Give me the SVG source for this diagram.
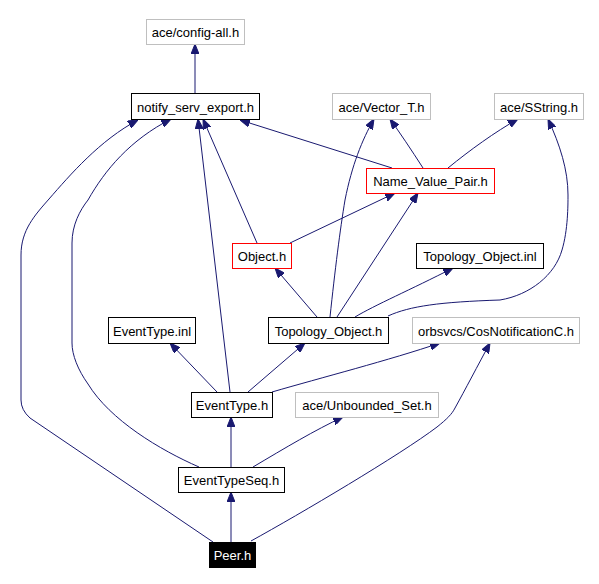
<svg xmlns="http://www.w3.org/2000/svg" width="599" height="584" viewBox="0 0 599 584">
<style>
.n rect{fill:#fff;stroke:#000;stroke-width:1}
.g rect{stroke:#bfbfbf}
.r rect{stroke:#ff0000}
text{font-family:"Liberation Sans",Arial,sans-serif;font-size:13px;text-anchor:middle;fill:#000}
text.w{fill:#fff}
.e path{fill:none;stroke:#191970;stroke-width:1;marker-end:url(#a)}
</style>
<defs>
<marker id="a" viewBox="0 0 10 8" refX="10" refY="4" markerWidth="10" markerHeight="8" markerUnits="userSpaceOnUse" orient="auto">
<path d="M0,0 L10,4 L0,8 z" fill="#191970" stroke="#191970"/>
</marker>
</defs>
<rect width="599" height="584" fill="#fff"/>
<g class="e" id="edges">
<path d="M195,93 L195,44"/>
<path d="M213,542 L30,418 Q21,410 21,400 L21,255 C21,230 35,215 49,199 C70,175 100,140 138,120"/>
<path d="M199,467 C160,450 110,420 88,384 C78,370 72,355 72,343 L72,243 C72,225 80,210 88,200 C105,170 130,140 171,119"/>
<path d="M230,392 L198,119"/>
<path d="M257,243 L203,119"/>
<path d="M392,168 L240,120"/>
<path d="M423,168 Q405,140 390,119"/>
<path d="M448,168 C470,150 495,132 518,119"/>
<path d="M330,317 C335,270 340,230 345,200 C352,165 362,140 374,119"/>
<path d="M337,317 L418,193"/>
<path d="M290,243 L395,193"/>
<path d="M317,317 L275,268"/>
<path d="M355,317 C375,305 410,290 453,268"/>
<path d="M388,316 C410,306 440,302 500,300 C530,295 555,275 562,250 C568,230 568,205 568,195 C568,170 560,145 548,119"/>
<path d="M217,392 L170,343"/>
<path d="M248,392 L305,343"/>
<path d="M272,392 C320,378 390,360 440,343"/>
<path d="M231,467 L231,417"/>
<path d="M253,467 C285,448 315,430 343,417"/>
<path d="M231,542 L231,492"/>
<path d="M251,541 C300,514 400,455 437,427 C447,419 452,414 455,408 C465,390 478,365 490,343"/>
</g>
<g class="n g" id="config-all"><rect x="146.5" y="19.5" width="98" height="25"/><text x="195.5" y="37">ace/config-all.h</text></g>
<g class="n" id="notify_serv_export"><rect x="131.5" y="93.5" width="128" height="26"/><text x="195.5" y="112">notify_serv_export.h</text></g>
<g class="n g" id="Vector_T"><rect x="332.5" y="93.5" width="98" height="26"/><text x="381.5" y="112">ace/Vector_T.h</text></g>
<g class="n g" id="SString"><rect x="494.5" y="93.5" width="89" height="26"/><text x="539" y="112">ace/SString.h</text></g>
<g class="n r" id="Name_Value_Pair"><rect x="366.5" y="168.5" width="128" height="25"/><text x="430.5" y="186">Name_Value_Pair.h</text></g>
<g class="n r" id="Object"><rect x="232.5" y="243.5" width="59" height="25"/><text x="262" y="261">Object.h</text></g>
<g class="n" id="Topology_Object_inl"><rect x="416.5" y="243.5" width="127" height="25"/><text x="480" y="261">Topology_Object.inl</text></g>
<g class="n" id="EventType_inl"><rect x="108.5" y="317.5" width="87" height="26"/><text x="152" y="336">EventType.inl</text></g>
<g class="n" id="Topology_Object_h"><rect x="268.5" y="317.5" width="120" height="26"/><text x="328.5" y="336">Topology_Object.h</text></g>
<g class="n g" id="CosNotificationC"><rect x="412.5" y="317.5" width="167" height="26"/><text x="496" y="336">orbsvcs/CosNotificationC.h</text></g>
<g class="n" id="EventType_h"><rect x="191.5" y="392.5" width="81" height="25"/><text x="232" y="410">EventType.h</text></g>
<g class="n g" id="Unbounded_Set"><rect x="295.5" y="392.5" width="143" height="25"/><text x="367" y="410">ace/Unbounded_Set.h</text></g>
<g class="n" id="EventTypeSeq"><rect x="178.5" y="467.5" width="106" height="25"/><text x="231.5" y="485">EventTypeSeq.h</text></g>
<g id="Peer"><rect x="209" y="542" width="47" height="26" fill="#000"/><text class="w" x="232.5" y="560">Peer.h</text></g>
</svg>
